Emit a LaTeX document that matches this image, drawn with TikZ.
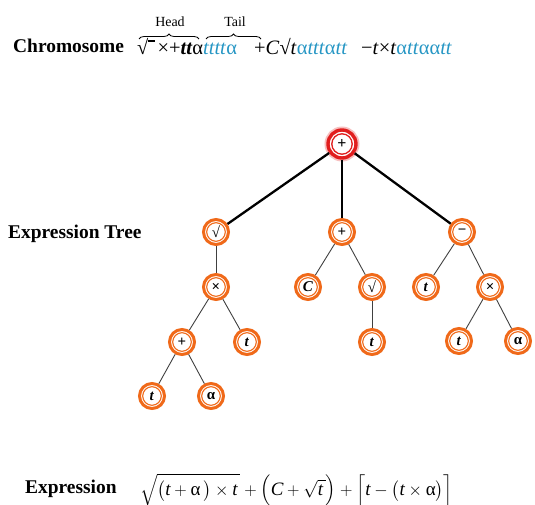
\documentclass[tikz,border=0pt]{standalone}
\usepackage{fontspec}
\setmainfont{Liberation Serif}
\usepackage{amsmath}
\usetikzlibrary{decorations.pathreplacing,shadows}
\definecolor{gblue}{RGB}{38,150,196}
\definecolor{norange}{RGB}{240,105,25}
\definecolor{rootred}{RGB}{225,30,30}
\newcommand{\radbar}{√\rlap{\rule[0.66em]{0.3em}{0.05em}}}
\begin{document}
\begin{tikzpicture}[x=1bp,y=-1bp,
  lbl/.style={font=\fontsize{19.5}{22}\selectfont\bfseries, anchor=base west, inner sep=0},
  gene/.style={font=\fontsize{20.5}{24}\selectfont, anchor=base west, inner sep=0},
  partlbl/.style={font=\fontsize{14}{16}\selectfont, anchor=base, inner sep=0},
  gnode/.style={circle, minimum size=25bp, inner sep=0, draw=norange, line width=3bp, fill=white,
     drop shadow={opacity=0.2, shadow xshift=1bp, shadow yshift=-1.2bp},
     path picture={\draw[norange, line width=1.1bp] (path picture bounding box.center) circle (9.3bp);},
     font=\fontsize{15}{17}\selectfont\bfseries},
  rnode/.style={circle, minimum size=28bp, inner sep=0, draw=rootred, line width=3.4bp, fill=white,
     preaction={draw=rootred!28, line width=7bp},
     path picture={\draw[rootred, line width=1.3bp] (path picture bounding box.center) circle (10.2bp);},
     font=\fontsize{16}{18}\selectfont\bfseries},
  thick edge/.style={line width=2.3bp, black},
  thin edge/.style={line width=0.9bp, black!75},
  brc/.style={decorate, decoration={brace, amplitude=5bp}, line width=0.8bp}
]
\useasboundingbox (0,0) rectangle (535,505);

% labels
\node[lbl] (lchrom) at (13,53) {Chromosome};
\node[lbl] (ltree) at (8,238) {Expression Tree};
\node[lbl] (lexpr) at (25,493) {Expression};

% chromosome
\node[gene] (g1) at (137,55) {\radbar\hspace{0.45em}×+\textbf{\textit{tt}}α\textcolor{gblue}{\textit{tttt}α}};
\node[gene] (g2) at (254,55) {+\textit{C}√\textit{t}\textcolor{gblue}{α\textit{ttt}α\textit{tt}}};
\node[gene] (g3) at (361,55) {−\textit{t}×\textit{t}\textcolor{gblue}{α\textit{tt}αα\textit{tt}}};
\coordinate (h1) at (139,39);
\coordinate (h2) at (199,39);
\coordinate (t1) at (206,39);
\coordinate (t2) at (261,39);
\draw[brc] (h1) -- (h2);
\draw[brc] (t1) -- (t2);
\node[partlbl] (head) at (170,27) {Head};
\node[partlbl] (tail) at (235,27) {Tail};

% tree nodes
\node[rnode] (root) at (342,144) {+};
\node[gnode] (a1) at (216,232) {\mdseries √};
\node[gnode] (a2) at (342,232) {+};
\node[gnode] (a3) at (462,232) {−};
\node[gnode] (b1) at (216,287) {×};
\node[gnode] (b2) at (308,287) {\textit{C}};
\node[gnode] (b3) at (372,287) {\mdseries √};
\node[gnode] (b4) at (426,287) {\textit{t}};
\node[gnode] (b5) at (490,287) {×};
\node[gnode] (c1) at (182,342) {+};
\node[gnode] (c2) at (247,342) {\textit{t}};
\node[gnode] (c3) at (372,342) {\textit{t}};
\node[gnode] (c4) at (459,341) {\textit{t}};
\node[gnode] (c5) at (518,341) {α};
\node[gnode] (d1) at (152,396) {\textit{t}};
\node[gnode] (d2) at (211,396) {α};

% edges
\draw[thick edge] (root) -- (a1);
\draw[thick edge] (root) -- (a2);
\draw[thick edge] (root) -- (a3);
\draw[thin edge] (a1) -- (b1);
\draw[thin edge] (a2) -- (b2);
\draw[thin edge] (a2) -- (b3);
\draw[thin edge] (a3) -- (b4);
\draw[thin edge] (a3) -- (b5);
\draw[thin edge] (b1) -- (c1);
\draw[thin edge] (b1) -- (c2);
\draw[thin edge] (b3) -- (c3);
\draw[thin edge] (b5) -- (c4);
\draw[thin edge] (b5) -- (c5);
\draw[thin edge] (c1) -- (d1);
\draw[thin edge] (c1) -- (d2);

% expression
\node[gene, font=\fontsize{19}{22}\selectfont] (formula) at (140,495)
 {$\sqrt{\bigl(\textit{t}\mathbin{+}\text{α}\,\bigr)\mathbin{\times}\textit{t}\,}\mathbin{+}\Bigl(\textit{C}\mathbin{+}\sqrt{\textit{t}\,}\Bigr)\mathbin{+}\Bigl\lceil\textit{t}\mathbin{-}\bigl(\textit{t}\mathbin{\times}\text{α}\bigr)\Bigr\rceil$};
\end{tikzpicture}
\end{document}
